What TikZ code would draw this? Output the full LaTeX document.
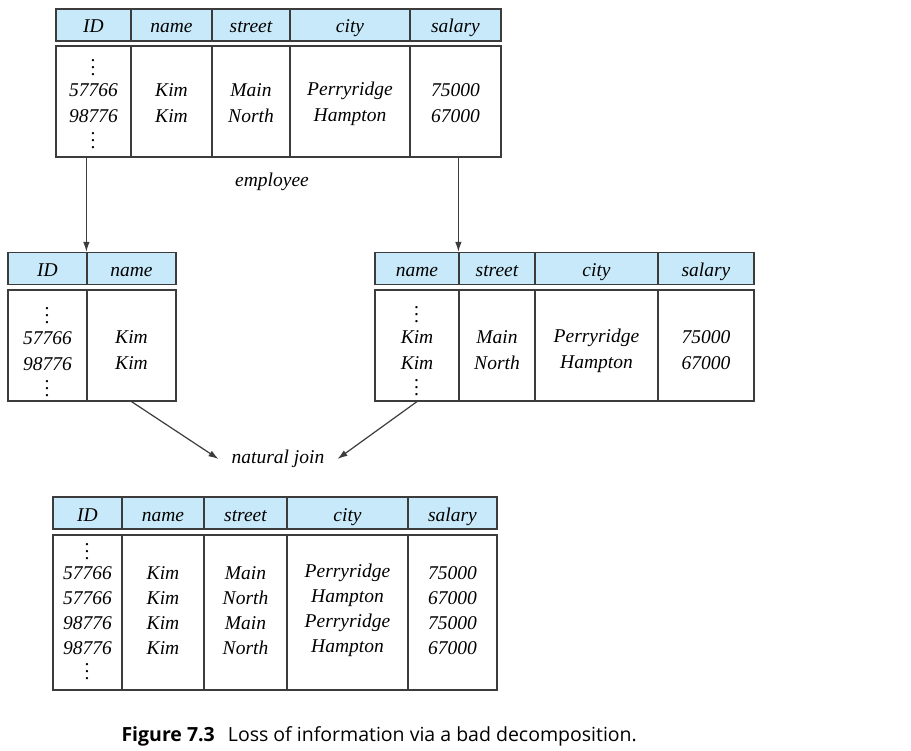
\documentclass[tikz,border=0pt]{standalone}
\usepackage{fontspec}
\usetikzlibrary{arrows.meta}
\setmainfont{Liberation Serif}
\newfontfamily\capfont{Open Sans}
\definecolor{headblue}{RGB}{200,233,249}
\definecolor{rulegray}{RGB}{60,60,60}
\newcommand\vd{\vbox{\baselineskip7pt\lineskiplimit0pt\hbox{.}\hbox{.}\hbox{.}}}
\tikzset{
  hcell/.style={draw=rulegray, line width=1.2pt, fill=headblue, minimum height=32, inner sep=0pt,
    text height=18pt, text depth=2pt, font=\fontsize{19.5}{26}\selectfont\itshape},
  bcell/.style={draw=rulegray, line width=1.2pt, inner sep=0pt},
  btext/.style={align=center, inner sep=0pt, font=\fontsize{19.5}{26}\selectfont\itshape},
  btextb/.style={align=center, inner sep=0pt, font=\fontsize{19.5}{25}\selectfont\itshape},
  link/.style={->, rulegray, line width=1.2pt},
}
\begin{document}
\begin{tikzpicture}[x=1pt, y=-1pt, >={Latex[length=10pt,width=6.5pt]}]
\useasboundingbox (0,0) rectangle (911,751);

% employee
\foreach \n/\x/\w/\t in {tID/93.5/75/ID, tName/171.5/81/name, tStr/251/78/street,
    tCity/350/120/city, tSal/455.5/91/salary}{
  \node[hcell, minimum width=\w] (\n) at (\x,25) {\t};
  \node[bcell, minimum width=\w, minimum height=111] (\n b) at (\x,101.5) {};
}
\node[btext] at (93.5,104.5) {\vd\\[-5pt]57766\\98776\\\vd};
\node[btext] at (171.5,103.5) {Kim\\Kim};
\node[btext] at (251,103.5) {Main\\North};
\node[btext] at (350,103.5) {Perryridge\\Hampton};
\node[btext] at (455.5,103.5) {75000\\67000};
\node[btext] (emp) at (272,182) {employee};

% left part
\foreach \n/\x/\w/\t in {lID/47.5/79/ID, lName/131.5/89/name}{
  \node[hcell, minimum width=\w] (\n) at (\x,268.5) {\t};
  \node[bcell, minimum width=\w, minimum height=111] (\n b) at (\x,345.5) {};
}
\node[btext] at (47.5,352) {\vd\\[-5pt]57766\\98776\\\vd};
\node[btext] at (131.5,350.5) {Kim\\Kim};

% right part
\foreach \n/\x/\w/\t in {rName/417/84/name, rStr/497/76/street, rCity/596.5/123/city, rSal/706/96/salary}{
  \node[hcell, minimum width=\w] (\n) at (\x,268.5) {\t};
  \node[bcell, minimum width=\w, minimum height=111] (\n b) at (\x,345.5) {};
}
\node[btext] at (417,351) {\vd\\[-5pt]Kim\\Kim\\\vd};
\node[btext] at (497,350.5) {Main\\North};
\node[btext] at (596.5,350.5) {Perryridge\\Hampton};
\node[btext] at (706,350) {75000\\67000};

\draw[link] (tIDb.south -| lName.north west) -- (lName.north west);
\draw[link] (tSalb.south -| rStr.north west) -- (rStr.north west);

\node[btext, inner sep=13pt] (join) at (278,459) {natural join};
\draw[link] (lNameb.south) -- (join.west);
\draw[link] (rNameb.south) -- (join.east);

% result
\foreach \n/\x/\w/\t in {bID/87.5/69/ID, bName/163/82/name, bStr/245.5/83/street,
    bCity/347.5/121/city, bSal/452.5/89/salary}{
  \node[hcell, minimum width=\w] (\n) at (\x,513) {\t};
  \node[bcell, minimum width=\w, minimum height=155] (\n b) at (\x,612.5) {};
}
\node[btextb] at (87.5,611.5) {\vd\\[-5pt]57766\\57766\\98776\\98776\\\vd};
\node[btextb] at (163,610.5) {Kim\\Kim\\Kim\\Kim};
\node[btextb] at (245.5,610.5) {Main\\North\\Main\\North};
\node[btextb] at (347.5,610.5) {Perryridge\\Hampton\\Perryridge\\Hampton};
\node[btextb] at (452.5,610.5) {75000\\67000\\75000\\67000};

\node[anchor=west, font=\capfont\fontsize{19.5}{24}\selectfont] (cap) at (118,736)
  {\textbf{Figure 7.3}\hspace{13pt}Loss of information via a bad decomposition.};
\end{tikzpicture}
\end{document}
